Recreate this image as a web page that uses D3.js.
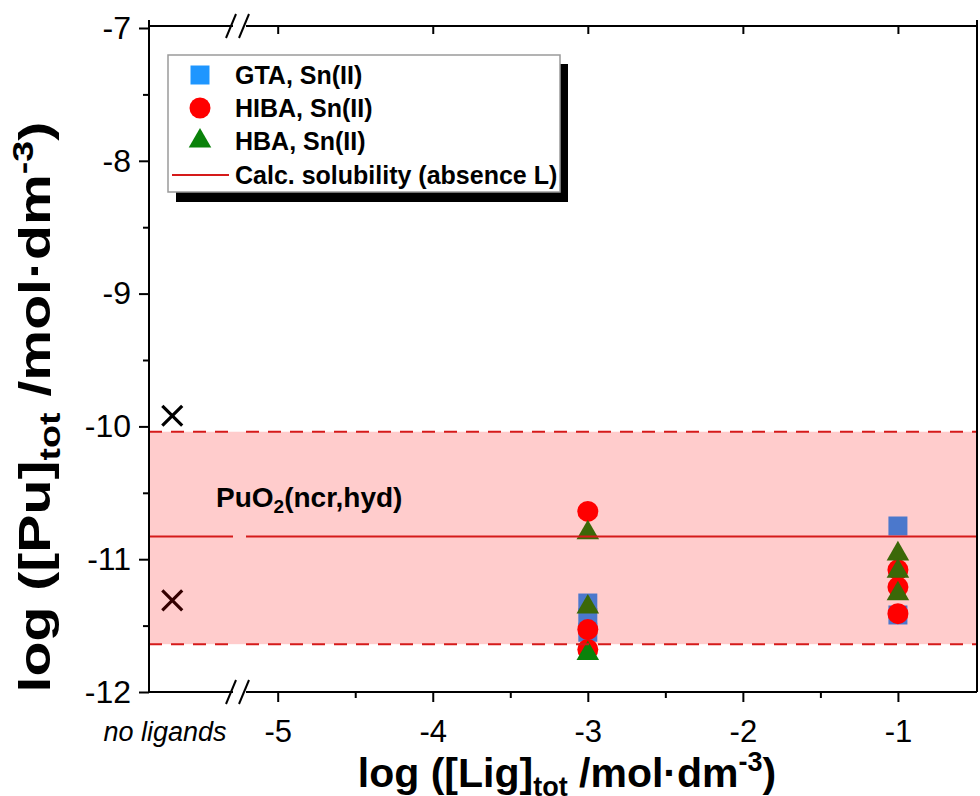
<!DOCTYPE html>
<html>
<head>
<meta charset="utf-8">
<script src="https://cdn.jsdelivr.net/npm/d3@7/dist/d3.min.js"></script>
<style>
  html, body { margin: 0; padding: 0; background: #fff; }
  svg { display: block; font-family: "Liberation Sans", Arial, sans-serif; }
</style>
</head>
<body>
<svg id="chart" width="980" height="796"></svg>
<script>
// Measured total Pu concentration vs. total ligand concentration (log units)
const gtaPoints  = [[-3, -11.33], [-3, -11.44], [-3, -11.55], [-1, -10.75], [-1, -11.42]];
const hibaPoints = [[-3, -10.64], [-3, -11.53], [-3, -11.68], [-1, -11.08], [-1, -11.21], [-1, -11.41]];
const hbaPoints  = [[-3, -10.80], [-3, -11.36], [-3, -11.71], [-1, -10.96], [-1, -11.09], [-1, -11.26]];

// Reference experiments without ligand (plotted left of the axis break)
const noLigandX = -5.68;
const noLigandValues = [-9.92, -11.31];

// Calculated PuO2(ncr,hyd) solubility and its uncertainty band
const solubilityMean = -10.83;
const solubilityUpper = -10.04;
const solubilityLower = -11.64;

const xTicks = [-5, -4, -3, -2, -1];
const xMinorTicks = [-4.5, -3.5, -2.5, -1.5];
const yTicks = [-7, -8, -9, -10, -11, -12];
const yMinorTicks = [-7.5, -8.5, -9.5, -10.5, -11.5];

const legendItems = [
  { label: "GTA, Sn(II)", kind: "square" },
  { label: "HIBA, Sn(II)", kind: "circle" },
  { label: "HBA, Sn(II)", kind: "triangle" },
  { label: "Calc. solubility (absence L)", kind: "line" }
];

const C = {
  blue: "#1e96ff", red: "#ff0000", green: "#0a820a",
  line: "#d51a1a", band: "rgba(255,0,0,0.2)", axis: "#000"
};

const svg = d3.select("#chart");
const plotL = 149, plotR = 977, plotT = 26, plotB = 692;
const breakL = 233, breakR = 246;

const x = d3.scaleLinear().domain([-5.83, -0.49]).range([plotL, plotR]);
const y = d3.scaleLinear().domain([-12, -7]).range([plotB, 28]);

const sym = {
  square: d3.symbol().type(d3.symbolSquare).size(19 * 19),
  circle: d3.symbol().type(d3.symbolCircle).size(Math.PI * 10.5 * 10.5),
  triangle: d3.symbol().type(d3.symbolTriangle).size(220),
  cross: d3.symbol().type(d3.symbolX).size(260)
};

// Data markers (drawn first, the band tints them afterwards)
const gData = svg.append("g");
function drawSeries(points, shape, color) {
  gData.selectAll(null).data(points).enter().append("path")
    .attr("d", sym[shape]())
    .attr("transform", d => `translate(${x(d[0])},${y(d[1])})`)
    .attr("fill", color);
}
drawSeries(gtaPoints, "square", C.blue);
drawSeries(hibaPoints, "circle", C.red);
drawSeries(hbaPoints, "triangle", C.green);

gData.selectAll(null).data(noLigandValues).enter().append("path")
  .attr("d", sym.cross())
  .attr("transform", d => `translate(${x(noLigandX)},${y(d)})`)
  .attr("fill", "none").attr("stroke", "#000").attr("stroke-width", 3.2);

// Uncertainty band
svg.append("rect")
  .attr("x", plotL).attr("width", plotR - plotL)
  .attr("y", y(solubilityUpper)).attr("height", y(solubilityLower) - y(solubilityUpper))
  .attr("fill", C.band);

// Solubility lines, interrupted at the axis break
function hLine(v, dash) {
  [[plotL, breakL], [breakR, plotR]].forEach(([a, b]) => {
    svg.append("line")
      .attr("x1", a).attr("x2", b).attr("y1", y(v)).attr("y2", y(v))
      .attr("stroke", C.line).attr("stroke-width", 2)
      .attr("stroke-dasharray", dash || null);
  });
}
hLine(solubilityMean);
hLine(solubilityUpper, "13,9");
hLine(solubilityLower, "13,9");

svg.append("text")
  .attr("x", 216).attr("y", 507)
  .attr("font-size", 28).attr("font-weight", "bold")
  .call(t => {
    t.append("tspan").text("PuO");
    t.append("tspan").attr("font-size", 19).attr("dy", 6).text("2");
    t.append("tspan").attr("dy", -6).text("(ncr,hyd)");
  });

// Frame and axes
const gAxis = svg.append("g").attr("stroke", C.axis).attr("stroke-width", 2).attr("fill", "none");
gAxis.append("line").attr("x1", plotL).attr("x2", plotL).attr("y1", plotT - 6).attr("y2", plotB);
gAxis.append("line").attr("x1", plotR).attr("x2", plotR).attr("y1", plotT - 6).attr("y2", plotB);
[plotT, plotB].forEach(yy => {
  gAxis.append("line").attr("x1", plotL - 1).attr("x2", breakL).attr("y1", yy).attr("y2", yy);
  gAxis.append("line").attr("x1", breakR).attr("x2", plotR).attr("y1", yy).attr("y2", yy);
  [breakL - 2, breakR - 2].forEach(cx => {
    gAxis.append("line")
      .attr("x1", cx - 5).attr("y1", yy + 12).attr("x2", cx + 5).attr("y2", yy - 12);
  });
});

// Bottom axis
const xAxis = svg.append("g").attr("transform", `translate(0,${plotB})`)
  .call(d3.axisBottom(x).tickValues(xTicks).tickSize(10).tickFormat(d => "-" + Math.abs(d)));
xAxis.select(".domain").remove();
xAxis.selectAll(".tick line").attr("stroke-width", 2);
xAxis.selectAll(".tick text").attr("font-size", 31).attr("y", 50).attr("dy", 0)
  .attr("font-family", "Liberation Sans, Arial, sans-serif");
svg.append("g").attr("transform", `translate(0,${plotB})`)
  .call(d3.axisBottom(x).tickValues(xMinorTicks).tickSize(6).tickFormat(""))
  .call(g => { g.select(".domain").remove(); g.selectAll(".tick line").attr("stroke-width", 2); });

// Top axis (ticks only)
svg.append("g").attr("transform", `translate(0,${plotT})`)
  .call(d3.axisBottom(x).tickValues(xTicks).tickSize(8).tickFormat(""))
  .call(g => { g.select(".domain").remove(); g.selectAll(".tick line").attr("stroke-width", 2); });

// Left axis
const yAxis = svg.append("g").attr("transform", `translate(${plotL},0)`)
  .call(d3.axisLeft(y).tickValues(yTicks).tickSize(10).tickPadding(8).tickFormat(d => "-" + Math.abs(d)));
yAxis.select(".domain").remove();
yAxis.selectAll(".tick line").attr("stroke-width", 2);
yAxis.selectAll(".tick text").attr("font-size", 32)
  .attr("font-family", "Liberation Sans, Arial, sans-serif");
svg.append("g").attr("transform", `translate(${plotL},0)`)
  .call(d3.axisLeft(y).tickValues(yMinorTicks).tickSize(6).tickFormat(""))
  .call(g => { g.select(".domain").remove(); g.selectAll(".tick line").attr("stroke-width", 2); });

// "no ligands" label under the break region
svg.append("text")
  .attr("x", 165).attr("y", 741)
  .attr("text-anchor", "middle").attr("font-size", 27).attr("font-style", "italic")
  .text("no ligands");

// Axis titles
svg.append("text")
  .attr("x", 567).attr("y", 787).attr("text-anchor", "middle")
  .attr("font-size", 41).attr("font-weight", "bold")
  .call(t => {
    t.append("tspan").text("log ([Lig]");
    t.append("tspan").attr("font-size", 27).attr("dy", 9).text("tot");
    t.append("tspan").attr("dy", -9).text(" /mol·dm");
    t.append("tspan").attr("font-size", 27).attr("dy", -16).text("-3");
    t.append("tspan").attr("dy", 16).text(")");
  });

svg.append("text")
  .attr("transform", "translate(50,407) rotate(-90) scale(1.3,1)").attr("text-anchor", "middle")
  .attr("font-size", 44).attr("font-weight", "bold")
  .call(t => {
    t.append("tspan").text("log ([Pu]");
    t.append("tspan").attr("font-size", 29).attr("dy", 10).text("tot");
    t.append("tspan").attr("dy", -10).text(" /mol·dm");
    t.append("tspan").attr("font-size", 29).attr("dy", -17).text("-3");
    t.append("tspan").attr("dy", 17).text(")");
  });

// Legend with drop shadow
const lg = svg.append("g");
lg.append("rect").attr("x", 176).attr("y", 64).attr("width", 392).attr("height", 138).attr("fill", "#000");
lg.append("rect").attr("x", 168).attr("y", 55).attr("width", 392).attr("height", 137)
  .attr("fill", "#fff").attr("stroke", "#9a9a9a").attr("stroke-width", 1.5);
const rowY = [75, 108, 141, 175];
legendItems.forEach((it, i) => {
  const cy = rowY[i];
  if (it.kind === "line") {
    lg.append("line").attr("x1", 172).attr("x2", 229).attr("y1", cy).attr("y2", cy)
      .attr("stroke", C.line).attr("stroke-width", 2);
  } else {
    const color = { square: C.blue, circle: C.red, triangle: C.green }[it.kind];
    lg.append("path").attr("d", sym[it.kind]()).attr("fill", color)
      .attr("transform", `translate(200,${cy})`);
  }
  lg.append("text").attr("x", 235).attr("y", cy + 9)
    .attr("font-size", 25).attr("font-weight", "bold").text(it.label);
});
</script>
</body>
</html>
